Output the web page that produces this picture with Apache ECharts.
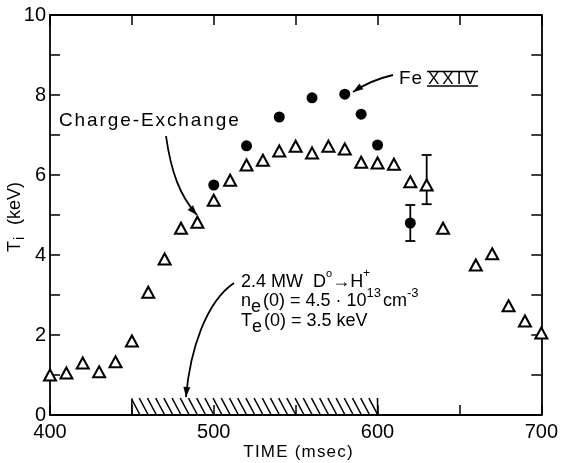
<!DOCTYPE html>
<html><head><meta charset="utf-8">
<script src="https://cdn.jsdelivr.net/npm/echarts@6/dist/echarts.min.js"></script>
<style>html,body{margin:0;padding:0;background:#fff}#c{width:561px;height:463px}</style>
</head><body><div id="c"></div>
<script>
// ---- data ----
var cxTime = [400,410,420,430,440,450,460,470,480,490,500,510,520,530,540,550,560,570,580,590,600,610,620,630,640,660,670,680,690,700];
var cxTi   = [1.0,1.05,1.3,1.08,1.33,1.85,3.07,3.9,4.67,4.82,5.37,5.87,6.25,6.37,6.6,6.72,6.55,6.72,6.65,6.32,6.3,6.27,5.83,5.75,4.67,3.75,4.03,2.73,2.35,2.05];
var feTime = [500,520,540,560,580,590,600,620];
var feTi   = [5.75,6.73,7.45,7.93,8.02,7.52,6.75,4.8];
var errTime = [630,620];
var errLow  = [5.27,4.35];
var errHigh = [6.5,5.25];
var beamStart = [450];
var beamEnd   = [600];
var beamHeight = [0.42];
var xTicks = [400,500,600,700];
var yTicks = [0,2,4,6,8,10];

var FONT = '"Liberation Sans", Arial, sans-serif';
var chart = echarts.init(document.getElementById('c'), null, {renderer:'canvas'});

var mc = document.createElement('canvas').getContext('2d');
function tw(t, size){ mc.font = size + 'px ' + FONT; return mc.measureText(t).width; }
// text placed character by character to emulate letter spacing
function spaced(x, y, text, size, ls, align){
  var total = 0, i;
  for (i = 0; i < text.length; i++) total += tw(text[i], size) + (i < text.length-1 ? ls : 0);
  var cx = align === 'center' ? x - total/2 : x, els = [];
  for (i = 0; i < text.length; i++) {
    els.push({type:'text', x:cx, y:y, style:{text:text[i], fontSize:size, fontFamily:FONT, fill:'#000', textAlign:'left', textVerticalAlign:'middle'}, z:10});
    cx += tw(text[i], size) + ls;
  }
  return els;
}
function richLine(x, y, parts){
  var els = [], cx = x;
  parts.forEach(function(p){
    var size = p.size || 18;
    els.push({type:'text', x:cx, y:y + (p.dy||0), style:{text:p.t, fontSize:size, fontFamily:FONT, fill:'#000', textAlign:'left', textVerticalAlign:'middle'}, z:10});
    cx += tw(p.t, size) + (p.gap||0);
  });
  return els;
}
function arrowHead(x, y, fromx, fromy, len, wid){
  var a = Math.atan2(y-fromy, x-fromx);
  var bx = x - len*Math.cos(a), by = y - len*Math.sin(a);
  var nx = -Math.sin(a)*wid, ny = Math.cos(a)*wid;
  return {type:'polygon', shape:{points:[[x,y],[bx+nx,by+ny],[bx-nx,by-ny]]}, style:{fill:'#000'}, z:10};
}
function curve(x1,y1,c1x,c1y,c2x,c2y,x2,y2){
  return [{type:'bezierCurve', shape:{x1:x1,y1:y1,cpx1:c1x,cpy1:c1y,cpx2:c2x,cpy2:c2y,x2:x2,y2:y2}, style:{stroke:'#000', lineWidth:1.8, fill:null}, z:10},
          arrowHead(x2,y2,c2x,c2y,10,3.5)];
}

var graphics = [];
// Charge-Exchange
graphics = graphics.concat(spaced(59, 121, 'Charge-Exchange', 19, 1.9, 'left'));
graphics = graphics.concat(curve(166,136, 171,172, 180,196, 197,215));
// Fe XXIV
graphics = graphics.concat(spaced(399, 79, 'Fe', 19, 1, 'left'));
graphics = graphics.concat(spaced(428, 79, 'XXIV', 17, 3, 'left'));
graphics.push({type:'line', shape:{x1:427,y1:71.5,x2:478,y2:71.5}, style:{stroke:'#000', lineWidth:1.6}, z:10});
graphics.push({type:'line', shape:{x1:427,y1:86,x2:478,y2:86}, style:{stroke:'#000', lineWidth:1.6}, z:10});
graphics = graphics.concat(curve(393,75, 380,78, 365,84, 353,92));
// NBI annotation
graphics = graphics.concat(richLine(241, 282, [{t:'2.4 MW  D'},{t:'o', size:11, dy:-8},{t:'\u2192', gap:0},{t:'H'},{t:'+', size:12, dy:-8}]));
graphics = graphics.concat(richLine(241, 301, [{t:'n'},{t:'e', size:18, dy:6, gap:2},{t:'(0) = 4.5 \u00b7 10'},{t:'13', size:13, dy:-8, gap:2},{t:'cm'},{t:'-3', size:13, dy:-8}]));
graphics = graphics.concat(richLine(241, 321, [{t:'T'},{t:'e', size:18, dy:6, gap:2},{t:'(0) = 3.5 keV'}]));
graphics = graphics.concat(curve(234,283, 206,302, 190,350, 186,397));
// axis titles
graphics = graphics.concat(spaced(298, 452, 'TIME (msec)', 17, 1.2, 'center'));
graphics.push({type:'text', x:15, y:252, rotation:Math.PI/2, style:{text:'T', fontSize:18, fontFamily:FONT, fill:'#000', textAlign:'left', textVerticalAlign:'middle'}, z:10});
graphics.push({type:'text', x:20, y:240, rotation:Math.PI/2, style:{text:'i', fontSize:14, fontFamily:FONT, fill:'#000', textAlign:'left', textVerticalAlign:'middle'}, z:10});
graphics.push({type:'text', x:15, y:225, rotation:Math.PI/2, style:{text:'(keV)', fontSize:18, fontFamily:FONT, fill:'#000', textAlign:'left', textVerticalAlign:'middle'}, z:10});

var axisBase = {
  axisLine:{show:true, onZero:false, lineStyle:{color:'#000', width:1.8}},
  axisTick:{show:true, inside:true, length:10, lineStyle:{color:'#000', width:1.5}},
  splitLine:{show:false}
};
function merge(a,b){ var o={}; for(var k in a)o[k]=a[k]; for(var k2 in b)o[k2]=b[k2]; return o; }

var option = {
  animation:false,
  backgroundColor:'#fff',
  grid:{left:50, right:18, top:15, bottom:48, containLabel:false},
  xAxis:[
    merge(axisBase,{type:'value', position:'bottom', min:400, max:700, interval:50,
      axisLabel:{fontSize:20, fontFamily:FONT, color:'#000', margin:7,
        formatter:function(v){ return xTicks.indexOf(v)>=0 ? String(v) : ''; }}}),
    merge(axisBase,{type:'value', position:'top', min:400, max:700, interval:50, axisLabel:{show:false}})
  ],
  yAxis:[
    merge(axisBase,{type:'value', position:'left', min:0, max:10, interval:1,
      axisLabel:{fontSize:20, fontFamily:FONT, color:'#000', margin:4,
        formatter:function(v){ return yTicks.indexOf(v)>=0 ? String(v) : ''; }}}),
    merge(axisBase,{type:'value', position:'right', min:0, max:10, interval:1, axisLabel:{show:false}})
  ],
  series:[
    {type:'custom', xAxisIndex:0, yAxisIndex:0, silent:true, z:1,
      data: beamStart.map(function(s,i){ return [s, beamEnd[i], beamHeight[i]]; }),
      renderItem:function(params, api){
        var p0 = api.coord([api.value(0), 0]);
        var p1 = api.coord([api.value(1), api.value(2)]);
        var left = p0[0], right = p1[0], bottom = p0[1], top = p1[1];
        var h = bottom - top, dx = 9, step = 8.2, kids = [];
        for (var x = left - dx; x < right; x += step) {
          var x1 = x, y1 = top, x2 = x + dx, y2 = bottom;
          if (x1 < left) { y1 = top + (left - x1) / dx * h; x1 = left; }
          if (x2 > right) { y2 = top + (right - x) / dx * h; x2 = right; }
          if (x2 <= x1) continue;
          kids.push({type:'line', shape:{x1:x1,y1:y1,x2:x2,y2:y2}, style:{stroke:'#000', lineWidth:1.5}});
        }
        kids.push({type:'line', shape:{x1:left,y1:top,x2:left,y2:bottom}, style:{stroke:'#000', lineWidth:1.5}});
        kids.push({type:'line', shape:{x1:right,y1:top,x2:right,y2:bottom}, style:{stroke:'#000', lineWidth:1.5}});
        return {type:'group', children:kids};
      }},
    {type:'custom', xAxisIndex:0, yAxisIndex:0, silent:true, z:2,
      encode:{x:0, y:[1,2]},
      data: errTime.map(function(t,i){ return [t, errLow[i], errHigh[i]]; }),
      renderItem:function(params, api){
        var a = api.coord([api.value(0), api.value(2)]);
        var b = api.coord([api.value(0), api.value(1)]);
        var w = 5, st = {stroke:'#000', lineWidth:1.8};
        return {type:'group', children:[
          {type:'line', shape:{x1:a[0],y1:a[1],x2:b[0],y2:b[1]}, style:st},
          {type:'line', shape:{x1:a[0]-w,y1:a[1],x2:a[0]+w,y2:a[1]}, style:st},
          {type:'line', shape:{x1:b[0]-w,y1:b[1],x2:b[0]+w,y2:b[1]}, style:st}
        ]};
      }},
    {type:'scatter', name:'Charge-Exchange', xAxisIndex:0, yAxisIndex:0, z:5,
      symbol:'triangle', symbolSize:[12,11],
      itemStyle:{color:'#fff', borderColor:'#000', borderWidth:2, opacity:1},
      data: cxTime.map(function(t,i){ return [t, cxTi[i]]; })},
    {type:'scatter', name:'Fe XXIV', xAxisIndex:0, yAxisIndex:0, z:6,
      symbol:'circle', symbolSize:11,
      itemStyle:{color:'#000', borderWidth:0, opacity:1},
      data: feTime.map(function(t,i){ return [t, feTi[i]]; })}
  ],
  graphic: graphics
};
chart.setOption(option);
</script></body></html>
